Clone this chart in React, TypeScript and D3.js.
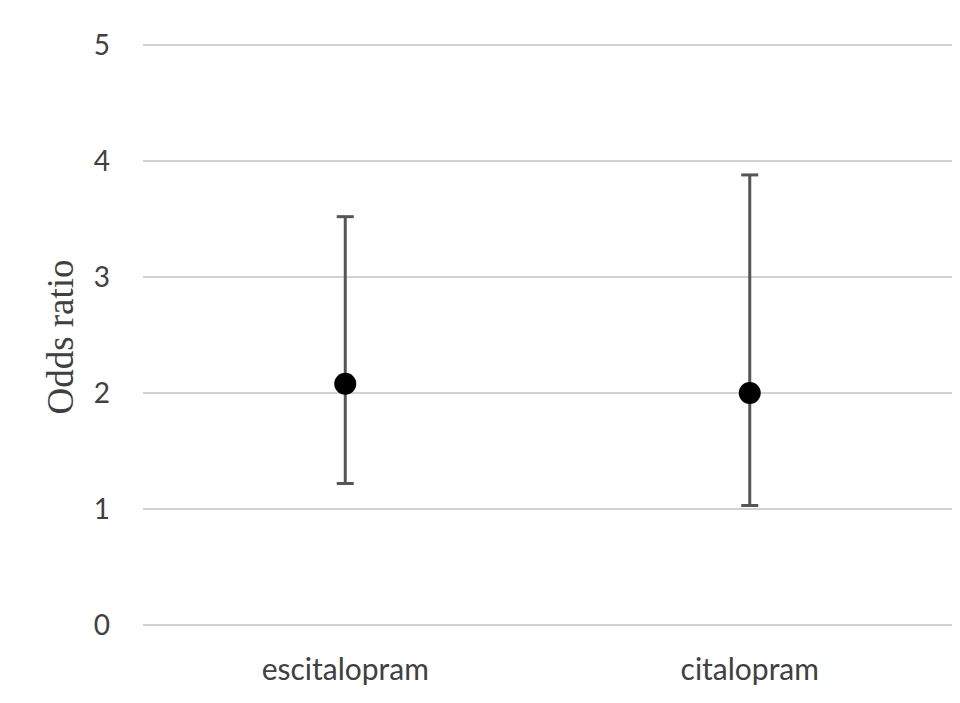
import React, { useEffect, useRef } from "react";
import * as d3 from "d3";

const drugs = ["escitalopram", "citalopram"];
const oddsRatio = [2.08, 2.0];
const ciLower = [1.22, 1.03];
const ciUpper = [3.52, 3.88];
const yTicks = [0, 1, 2, 3, 4, 5];

const App: React.FC = () => {
  const svgRef = useRef<SVGSVGElement>(null);
  const width = 960;
  const height = 703;

  useEffect(() => {
    document.body.style.margin = "0";
    if (!svgRef.current) return;

    const svg = d3.select(svgRef.current);
    svg.selectAll("*").remove();

    const margin = { top: 45, right: 8, bottom: 78, left: 143 };
    const innerWidth = width - margin.left - margin.right;
    const innerHeight = height - margin.top - margin.bottom;

    const g = svg.append("g")
      .attr("transform", `translate(${margin.left}, ${margin.top})`);

    const x = d3.scaleBand()
      .domain(drugs)
      .range([0, innerWidth])
      .padding(0);

    const y = d3.scaleLinear()
      .domain([0, 5])
      .range([innerHeight, 0]);

    // Gridlines
    g.append("g")
      .selectAll("line")
      .data(yTicks)
      .join("line")
      .attr("x1", 0)
      .attr("x2", innerWidth)
      .attr("y1", d => y(d))
      .attr("y2", d => y(d))
      .attr("stroke", "#d2d2d2")
      .attr("stroke-width", 2);

    // Y tick labels
    g.append("g")
      .selectAll("text")
      .data(yTicks)
      .join("text")
      .attr("x", -33)
      .attr("y", d => y(d))
      .attr("dy", "0.35em")
      .attr("text-anchor", "end")
      .attr("font-family", "Lato, 'Open Sans', sans-serif")
      .attr("font-size", 28)
      .attr("fill", "#404040")
      .text(d => d);

    // X category labels
    g.append("g")
      .selectAll("text")
      .data(drugs)
      .join("text")
      .attr("x", d => (x(d) || 0) + x.bandwidth() / 2)
      .attr("y", innerHeight + 55)
      .attr("text-anchor", "middle")
      .attr("font-family", "Lato, 'Open Sans', sans-serif")
      .attr("font-size", 30)
      .attr("fill", "#404040")
      .text(d => d);

    // Y-axis label
    svg.append("text")
      .attr("transform", `translate(73, 337) rotate(-90)`)
      .attr("text-anchor", "middle")
      .attr("font-family", "'Liberation Serif', 'DejaVu Serif', serif")
      .attr("font-size", 37)
      .attr("fill", "#404040")
      .text("Odds ratio");

    const points = drugs.map((d, i) => ({
      drug: d,
      or: oddsRatio[i],
      lo: ciLower[i],
      hi: ciUpper[i],
    }));

    const cx = (d: string) => (x(d) || 0) + x.bandwidth() / 2;
    const capHalf = 8.5;

    const bars = g.append("g").selectAll("g")
      .data(points)
      .join("g");

    bars.append("line")
      .attr("x1", d => cx(d.drug))
      .attr("x2", d => cx(d.drug))
      .attr("y1", d => y(d.lo))
      .attr("y2", d => y(d.hi))
      .attr("stroke", "#555555")
      .attr("stroke-width", 3);

    bars.append("line")
      .attr("x1", d => cx(d.drug) - capHalf)
      .attr("x2", d => cx(d.drug) + capHalf)
      .attr("y1", d => y(d.hi))
      .attr("y2", d => y(d.hi))
      .attr("stroke", "#555555")
      .attr("stroke-width", 3);

    bars.append("line")
      .attr("x1", d => cx(d.drug) - capHalf)
      .attr("x2", d => cx(d.drug) + capHalf)
      .attr("y1", d => y(d.lo))
      .attr("y2", d => y(d.lo))
      .attr("stroke", "#555555")
      .attr("stroke-width", 3);

    bars.append("circle")
      .attr("cx", d => cx(d.drug))
      .attr("cy", d => y(d.or))
      .attr("r", 11)
      .attr("fill", "#000000");
  }, []);

  return (
    <svg ref={svgRef} width={width} height={height} style={{ display: "block", background: "#ffffff" }}></svg>
  );
};

export default App;
